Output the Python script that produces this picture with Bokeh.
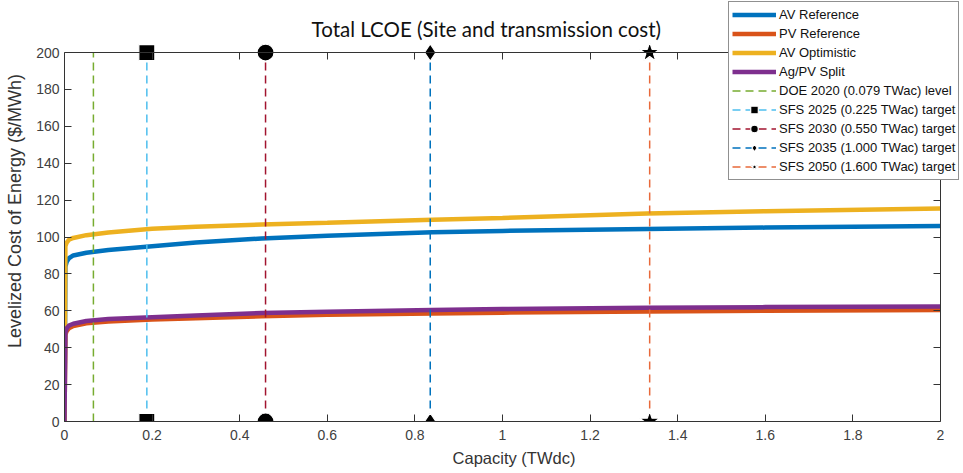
from bokeh.plotting import figure
from bokeh.models import (Legend, LegendItem, LinearAxis, FixedTicker,
                          PrintfTickFormatter, Range1d, Label)
from bokeh.embed import file_html
from bokeh.resources import INLINE

# ---- data ----
capacity = [0, 0.002, 0.005, 0.01, 0.02, 0.05, 0.1, 0.2, 0.3, 0.45, 0.6,
            0.84, 1.0, 1.33, 1.6, 2.0]
av_reference = [0, 84, 86.5, 88.5, 90, 91.5, 93, 95, 97, 99.2, 100.7,
                102.6, 103.3, 104.4, 105.1, 106.0]
pv_reference = [0, 47, 49, 50.5, 51.8, 53.2, 54.2, 55.3, 56, 57, 57.8,
                58.6, 59, 59.6, 60, 60.4]
av_optimistic = [0, 95, 97, 98.5, 99.5, 101, 102.5, 104.5, 105.5, 106.8,
                 107.7, 109.3, 110.3, 112.7, 114, 115.5]
agpv_split = [0, 48, 50.5, 52, 53, 54.5, 55.5, 56.5, 57.5, 58.8, 59.5,
              60.5, 61, 61.6, 62, 62.4]

target_names = ["DOE 2020 (0.079 TWac) level", "SFS 2025 (0.225 TWac) target",
                "SFS 2030 (0.550 TWac) target", "SFS 2035 (1.000 TWac) target",
                "SFS 2050 (1.600 TWac) target"]
target_x = [0.066, 0.188, 0.459, 0.835, 1.336]
target_markers = [None, "square", "circle", "diamond", "star"]
target_sizes = [0, 16, 17, 17, 21]

x_ticks = [0, 0.2, 0.4, 0.6, 0.8, 1.0, 1.2, 1.4, 1.6, 1.8, 2.0]
y_ticks = [0, 20, 40, 60, 80, 100, 120, 140, 160, 180, 200]
x_min, x_max = 0, 2
y_min, y_max = 0, 200

series_names = ["AV Reference", "PV Reference", "AV Optimistic", "Ag/PV Split"]
series_values = [av_reference, pv_reference, av_optimistic, agpv_split]
series_colors = ["#0072BD", "#D95319", "#EDB120", "#7E2F8E"]
target_colors = ["#77AC30", "#4DBEEE", "#A2142F", "#0072BD", "#E8693A"]

TITLE = "Total LCOE (Site and transmission cost)"
FONT = "Liberation Sans"
AX = "#333333"

# the frame fills the canvas to the top and right so that the legend may
# overlap the title region like in the reference; the axes box is drawn with
# bounded / fixed-location axes.
p = figure(width=963, height=473, output_backend="svg", toolbar_location=None,
           x_range=Range1d(x_min, 2.0525), y_range=Range1d(y_min, 228.2),
           min_border_left=64, min_border_right=0, min_border_top=0,
           min_border_bottom=52)
p.grid.visible = False
p.outline_line_color = None
p.background_fill_color = "white"

def style_axis(ax, ticks, labels=True):
    ax.ticker = FixedTicker(ticks=ticks)
    ax.major_tick_in = 7
    ax.major_tick_out = 0
    ax.minor_tick_line_color = None
    ax.axis_line_color = AX
    ax.major_tick_line_color = AX
    ax.major_label_text_font = FONT
    ax.major_label_text_font_size = "14px"
    ax.major_label_text_color = "#404040" if labels else None
    ax.axis_label_text_font = FONT
    ax.axis_label_text_font_style = "normal"
    ax.axis_label_text_color = "#333333"
    ax.formatter = PrintfTickFormatter(format="%g")

style_axis(p.xaxis[0], x_ticks)
style_axis(p.yaxis[0], y_ticks)
p.xaxis[0].bounds = (x_min, x_max)
p.yaxis[0].bounds = (y_min, y_max)
p.xaxis[0].axis_label = "Capacity (TWdc)"
p.yaxis[0].axis_label = "Levelized Cost of Energy ($/MWh)"
p.xaxis[0].axis_label_text_font_size = "16.5px"
p.yaxis[0].axis_label_text_font_size = "18px"
p.xaxis[0].major_label_standoff = 8
p.xaxis[0].axis_label_standoff = 6
p.yaxis[0].axis_label_standoff = 8

top_ax = LinearAxis(fixed_location=y_max, bounds=(x_min, x_max))
style_axis(top_ax, x_ticks, labels=False)
right_ax = LinearAxis(fixed_location=x_max, bounds=(y_min, y_max))
style_axis(right_ax, y_ticks, labels=False)
p.add_layout(top_ax, "above")
p.add_layout(right_ax, "right")

p.add_layout(Label(x=0.963, y=213, text=TITLE, text_align="center",
                   text_baseline="middle", text_font="Lato",
                   text_font_size="20.5px", text_color="#111111"))

items = []
for name, vals, col in zip(series_names, series_values, series_colors):
    r = p.line(capacity, vals, line_color=col, line_width=4.5)
    items.append(LegendItem(label=name, renderers=[r]))

for name, xv, mk, sz, col in zip(target_names, target_x, target_markers,
                                 target_sizes, target_colors):
    rl = p.line([xv, xv], [y_min, y_max], line_color=col, line_width=1.5,
                line_dash="8 5")
    rends = [rl]
    if mk is not None:
        rs = p.scatter([xv, xv], [y_min, y_max], marker=mk, size=sz,
                       fill_color="black", line_color="white", line_width=1.2)
        rends.append(rs)
    items.append(LegendItem(label=name, renderers=rends))

legend = Legend(items=items, location=(664, 241))
legend.label_text_font = FONT
legend.label_text_font_size = "13px"
legend.label_text_color = "#111111"
legend.label_height = 19
legend.glyph_height = 19
legend.glyph_width = 44
legend.spacing = 0
legend.padding = 3
legend.margin = 0
legend.label_standoff = 3
legend.border_line_color = "#222222"
legend.border_line_width = 1
legend.background_fill_alpha = 1
p.add_layout(legend, "center")

open("out.html", "w").write(file_html(p, INLINE))
